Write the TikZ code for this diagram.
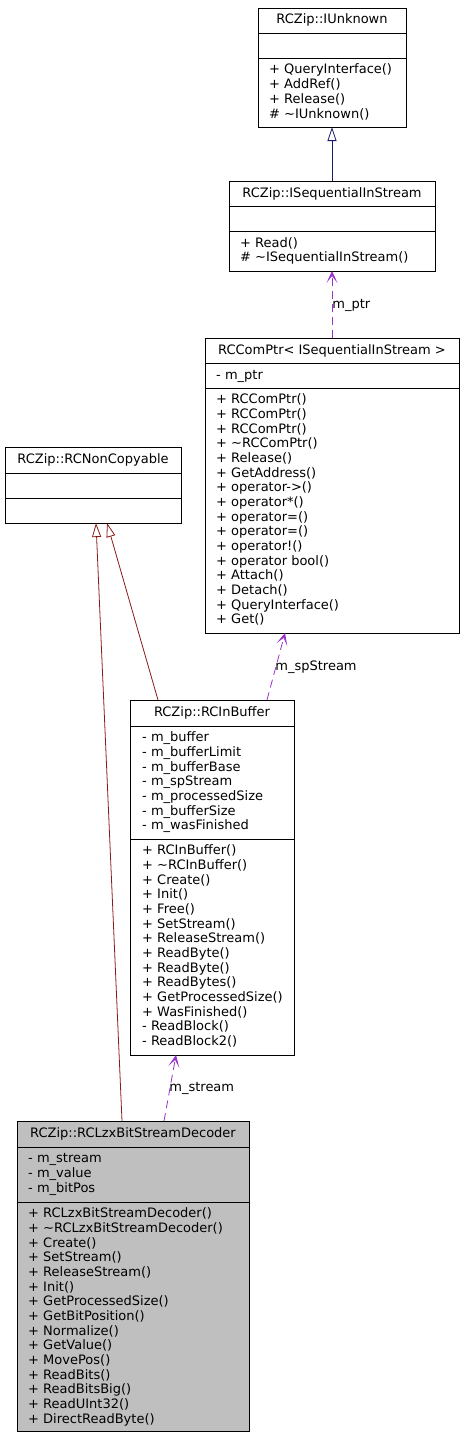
\documentclass[tikz,border=0pt]{standalone}
\usepackage{fontspec}
\setmainfont{DejaVu Sans}
\usetikzlibrary{arrows.meta,calc}
\definecolor{inhblue}{HTML}{191970}
\definecolor{inhred}{HTML}{8B1A1A}
\definecolor{usepurple}{HTML}{9A32CD}
\definecolor{boxgray}{HTML}{BFBFBF}
\newcommand\dfont{\fontsize{13}{15}\selectfont}
\tikzset{
  classbox/.style={draw=black, line width=0.9pt, fill=white, anchor=north west, inner sep=0pt, outer sep=0pt},
  title/.style={font=\dfont, inner sep=0pt, text height=9.5pt, text depth=2.5pt},
  member/.style={font=\dfont, anchor=west, inner sep=0pt, text height=9.5pt, text depth=2.5pt},
  sep/.style={line width=0.9pt},
  inherit/.style={line width=0.8pt, -{Triangle[open, length=14pt, width=9pt, fill=white]}},
  usage/.style={line width=0.8pt, usepurple, dash pattern=on 8pt off 5pt, -{Stealth[length=12pt, width=11pt, inset=7pt]}},
  elabel/.style={font=\dfont, text=black, anchor=west, inner sep=0pt, text height=9.5pt, text depth=2.5pt}
}
\newcommand\memlist[4]{%
  \foreach \m [count=\k from 0] in {#3} {\node[member] (#4-\k) at (#1, #2+\k*14.67) {\m};}}
\begin{document}
\begin{tikzpicture}[x=1pt, y=-1pt]
\useasboundingbox[fill=white] (0,0) rectangle (464,1437);

% RCZip::IUnknown
\node[classbox, minimum width=148pt, minimum height=119pt] (iunk) at (258,8) {};
\draw[sep] (258,33) -- (406,33);
\draw[sep] (258,58) -- (406,58);
\node[title] (iunk-t) at (332,20.5) {RCZip::IUnknown};
\memlist{269}{70.5}{+ QueryInterface(), + AddRef(), + Release(), \# \textasciitilde IUnknown()}{iunkm}

% RCZip::ISequentialInStream
\node[classbox, minimum width=206pt, minimum height=90pt] (iseq) at (229,181) {};
\draw[sep] (229,206) -- (435,206);
\draw[sep] (229,231) -- (435,231);
\node[title] (iseq-t) at (332,193.5) {RCZip::ISequentialInStream};
\memlist{240}{243.5}{+ Read(), \# \textasciitilde ISequentialInStream()}{iseqm}

% RCComPtr< ISequentialInStream >
\node[classbox, minimum width=254pt, minimum height=295pt] (comptr) at (205,338) {};
\draw[sep] (205,363) -- (459,363);
\draw[sep] (205,388) -- (459,388);
\node[title] (comptr-t) at (332,350.5) {RCComPtr< ISequentialInStream >};
\memlist{216}{375.5}{- m\_ptr}{comptra}
\memlist{216}{400.3}{+ RCComPtr(), + RCComPtr(), + RCComPtr(), + \textasciitilde RCComPtr(), + Release(), + GetAddress(), + operator->(), + operator*(), + operator=(), + operator=(), + operator!(), + operator bool(), + Attach(), + Detach(), + QueryInterface(), + Get()}{comptrm}

% RCZip::RCNonCopyable
\node[classbox, minimum width=176pt, minimum height=76pt] (noncopy) at (5,447) {};
\draw[sep] (5,473) -- (181,473);
\draw[sep] (5,498) -- (181,498);
\node[title] (noncopy-t) at (93,460) {RCZip::RCNonCopyable};

% RCZip::RCInBuffer
\node[classbox, minimum width=164pt, minimum height=355pt] (inbuf) at (130,700) {};
\draw[sep] (130,726) -- (294,726);
\draw[sep] (130,839) -- (294,839);
\node[title] (inbuf-t) at (212,713) {RCZip::RCInBuffer};
\memlist{142}{738.3}{- m\_buffer, - m\_bufferLimit, - m\_bufferBase, - m\_spStream, - m\_processedSize, - m\_bufferSize, - m\_wasFinished}{inbufa}
\memlist{142}{851.3}{+ RCInBuffer(), + \textasciitilde RCInBuffer(), + Create(), + Init(), + Free(), + SetStream(), + ReleaseStream(), + ReadByte(), + ReadByte(), + ReadBytes(), + GetProcessedSize(), + WasFinished(), - ReadBlock(), - ReadBlock2()}{inbufm}

% RCZip::RCLzxBitStreamDecoder
\node[classbox, fill=boxgray, minimum width=232pt, minimum height=310pt] (lzx) at (17,1121) {};
\draw[sep] (17,1147) -- (249,1147);
\draw[sep] (17,1202) -- (249,1202);
\node[title] (lzx-t) at (133,1134) {RCZip::RCLzxBitStreamDecoder};
\memlist{28}{1159.3}{- m\_stream, - m\_value, - m\_bitPos}{lzxa}
\memlist{28}{1214.3}{+ RCLzxBitStreamDecoder(), + \textasciitilde RCLzxBitStreamDecoder(), + Create(), + SetStream(), + ReleaseStream(), + Init(), + GetProcessedSize(), + GetBitPosition(), + Normalize(), + GetValue(), + MovePos(), + ReadBits(), + ReadBitsBig(), + ReadUInt32(), + DirectReadByte()}{lzxm}

% connectors
\draw[inherit, inhblue] (iseq.north) -- (iunk.south);
\draw[usage] (comptr.north) -- node[elabel, pos=0.5] {m\_ptr} (iseq.south);
\draw[usage] ($(inbuf.north west)+(137,0)$) -- node[elabel, pos=0.5, xshift=-1pt] {m\_spStream} ($(comptr.south west)+(80,0)$);
\draw[usage] ($(lzx.north west)+(147,0)$) -- node[elabel, pos=0.5, xshift=-1pt] {m\_stream} ($(inbuf.south west)+(46,0)$);
\draw[inherit, inhred] ($(inbuf.north west)+(28,0)$) -- ($(noncopy.south west)+(102,0)$);
\draw[inherit, inhred] ($(lzx.north west)+(105,0)$) -- ($(noncopy.south west)+(91,0)$);
\end{tikzpicture}
\end{document}
